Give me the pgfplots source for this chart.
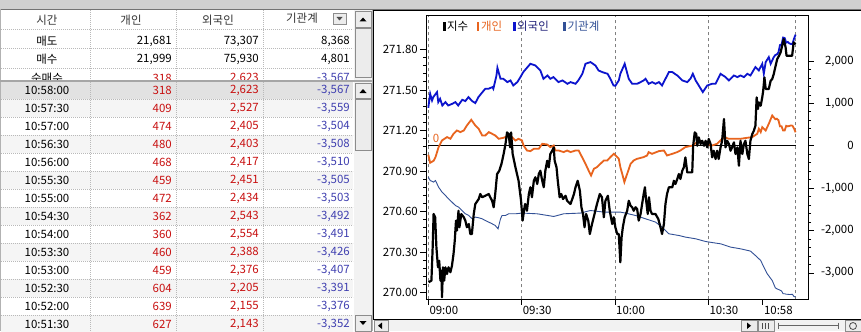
\documentclass[border=0pt]{standalone}
\usepackage{fontspec}
\setmainfont{Noto Sans CJK KR}
\usepackage{pgfplots}
\pgfplotsset{compat=1.18}
\definecolor{cGaein}{RGB}{232,100,30}
\definecolor{cForeign}{RGB}{12,20,205}
\definecolor{cInst}{RGB}{50,80,150}
\definecolor{cLegF}{RGB}{30,30,120}
\definecolor{cRed}{RGB}{200,16,16}
\definecolor{cBlue}{RGB}{64,64,176}
\definecolor{gridgray}{RGB}{128,128,128}
\definecolor{sepgray}{RGB}{185,185,185}
\definecolor{hilite}{RGB}{226,226,226}
\definecolor{altrow}{RGB}{245,245,245}
\definecolor{barface}{RGB}{236,236,236}
\definecolor{track}{RGB}{242,242,242}
\definecolor{topbar}{RGB}{208,208,208}

\newcommand\trow[5]{%
  \node[anchor=center] at (47,#1) {#2};
  \node[anchor=east,text=cRed] at (172,#1) {#3};
  \node[anchor=east,text=cRed] at (259,#1) {#4};
  \node[anchor=east,text=cBlue] at (350,#1) {#5};}
\newcommand\btn[4]{\filldraw[fill=barface,draw=black!45,line width=0.7bp] (#1,#2) rectangle (#3,#4);}

\pgfplotstableread{
m r
0 897
0.6 1227
1.2 1069
1.6 1149
2.8 1267
3.2 1031
3.8 1109
4.5 951
5.5 1031
6.4 951
7.7 991
8.7 1031
9.6 951
10.9 1086
11.9 1055
12.9 1149
14.1 1055
15.1 1008
16.1 1149
17.4 1267
18.3 1345
19.3 1345
20.6 1385
20.9 1345
21.9 1659
22.2 1841
23.2 1581
24.1 1581
25.4 1503
26.4 1542
27.3 1423
28.6 1503
29.6 1621
30.5 1739
32.8 1935
34.4 1895
36.0 1777
37.0 1581
38.3 1659
39.2 1581
40.2 1621
41.8 1503
43.1 1542
44.7 1463
45.7 1503
47.3 1463
48.2 1542
49.5 1699
50.5 1935
52.1 1975
53.7 1895
54.7 1777
55.9 1739
57.6 1699
58.5 1581
59.5 1423
60.1 1416
61.2 1542
61.7 1699
63.1 1935
64.4 1581
65.5 1463
67.1 1463
68.2 1503
69.2 1542
69.8 1581
70.8 1463
71.9 1503
73.0 1463
74.1 1503
75.1 1423
76.2 1581
77.3 1739
78.4 1739
80.0 1659
81.6 1542
83.2 1503
84.2 1581
85.0 1699
85.9 1542
86.9 1423
88.2 1267
89.6 1423
91.2 1463
92.3 1463
93.9 1699
95.5 1621
96.6 1542
98.2 1659
99.3 1621
100.3 1659
101.4 1621
102.5 1699
103.5 1659
105.1 1857
106.2 1777
107.3 1935
107.8 1699
108.4 1975
109.4 2093
110.0 1935
111.0 2093
111.5 2143
112.0 2155
112.5 2205
113.0 2376
113.5 2388
114.0 2554
114.5 2543
115.0 2434
115.5 2451
116.0 2417
116.5 2403
117.0 2405
117.5 2527
118.0 2623
}\foreign

\pgfplotstableread{
m r
0 -212
0.6 -401
1.7 -354
2.3 -271
3.3 -31
4.4 125
6.0 205
7.1 165
8.1 283
9.2 361
10.3 323
11.4 361
12.4 479
13.8 614
15.1 479
16.2 401
17.3 243
18.3 243
19.4 323
20.5 283
21.5 243
22.6 165
24.2 189
25.8 243
26.9 205
28.0 125
29.0 165
30.1 125
30.6 7
31.7 -111
32.8 -126
33.9 -71
35.5 -71
36.6 47
38.2 31
39.2 -31
40.3 7
40.8 -111
41.9 -111
43.5 -149
44.6 -111
45.7 -149
47.3 -111
48.3 -111
49.4 -267
50.5 -425
51.5 -583
52.3 -701
53.2 -543
54.2 -503
55.3 -425
56.4 -347
57.5 -347
58.5 -267
59.6 -189
60.7 -267
61.2 -307
61.7 -503
62.3 -661
63.0 -857
63.9 -661
65.0 -425
66.0 -347
67.1 -307
69.2 -267
70.3 -229
70.8 -149
71.9 -189
74.1 -126
75.7 -111
76.7 -229
78.4 -189
80.0 -149
81.0 -111
82.6 -31
85.0 7
86.9 125
89.1 47
91.2 7
92.8 47
95.0 205
96.6 165
98.2 165
100.3 165
102.5 189
104.1 205
105.7 283
106.2 401
106.8 323
107.3 441
108.4 361
109.4 519
110.5 715
111.5 627
112.0 639
112.5 604
113.0 459
113.5 460
114.0 360
114.5 362
115.0 472
115.5 459
116.0 468
116.5 480
117.0 474
117.5 409
118.0 318
}\gaein

\pgfplotstableread{
m r
0 -739
0.6 -819
1.7 -857
2.3 -819
3.3 -975
4.4 -1093
5.5 -1173
6.5 -1251
7.6 -1329
8.7 -1409
9.7 -1447
10.8 -1527
11.9 -1605
13.0 -1645
14.1 -1723
15.1 -1683
16.2 -1699
17.3 -1723
18.3 -1763
19.4 -1801
20.5 -1841
21.5 -1881
22.4 -1959
23.2 -1723
23.7 -1645
24.8 -1645
25.8 -1605
28.0 -1605
30.1 -1588
35.0 -1605
40.3 -1668
43.5 -1605
48.9 -1588
52.1 -1527
56.4 -1565
61.7 -1565
63.3 -1588
66.6 -1645
69.8 -1723
73.0 -1801
75.1 -1919
77.3 -2077
80.5 -2117
82.6 -2155
85.9 -2195
89.1 -2259
92.3 -2296
93.9 -2313
97.1 -2391
100.3 -2431
103.5 -2485
105.1 -2589
106.8 -2707
107.8 -2863
108.9 -3021
110.5 -3179
111.5 -3352
112.0 -3376
112.5 -3391
113.0 -3407
113.5 -3426
114.0 -3491
114.5 -3492
115.0 -3503
115.5 -3505
116.0 -3510
116.5 -3508
117.0 -3504
117.5 -3559
118.0 -3567
}\inst

\pgfplotstableread{
m v
0.1 270.077
1.0 270.089
1.4 270.336
1.7 270.582
2.2 270.558
2.6 270.336
3.1 270.188
3.5 270.237
3.9 270.089
4.2 270.163
4.4 269.966
4.7 270.188
5.1 270.089
5.5 270.188
6.0 270.138
6.5 270.188
7.1 270.151
7.6 270.200
8.1 270.286
8.5 270.385
8.9 270.533
9.2 270.459
9.7 270.606
10.0 270.484
10.6 270.582
11.4 270.558
11.9 270.533
12.4 270.484
13.0 270.508
13.5 270.434
14.0 270.434
14.6 270.582
15.1 270.656
16.2 270.693
16.7 270.730
17.3 270.706
18.3 270.717
19.4 270.730
19.9 270.706
20.5 270.680
21.0 270.632
21.5 270.730
22.1 270.878
22.8 270.902
23.5 270.952
24.2 271.026
24.8 271.100
25.3 271.186
25.8 271.174
26.3 271.075
26.6 271.186
27.1 271.026
28.0 270.927
29.0 270.828
29.8 270.680
30.3 270.533
30.9 270.632
31.1 270.656
31.7 270.606
32.3 270.730
32.8 270.780
33.3 270.706
33.9 270.828
34.4 270.854
35.0 270.804
35.5 270.878
36.0 270.902
36.6 270.828
37.1 270.780
37.6 270.902
38.2 270.976
38.7 270.927
39.2 271.026
39.8 271.050
40.3 271.075
40.6 270.976
41.2 270.927
41.6 270.828
42.2 270.706
42.7 270.730
43.3 270.693
44.1 270.717
44.6 270.680
45.7 270.656
46.8 270.730
47.3 270.780
48.0 270.828
48.7 270.754
49.2 270.632
49.7 270.582
50.2 270.484
50.7 270.582
51.4 270.533
51.9 270.434
52.6 270.508
53.4 270.582
54.2 270.656
55.1 270.730
55.8 270.706
56.4 270.558
56.9 270.680
57.7 270.717
58.3 270.606
59.1 270.508
59.6 270.558
60.1 270.484
60.7 270.434
61.2 270.434
61.7 270.225
62.1 270.410
62.5 270.484
63.1 270.558
63.9 270.606
64.4 270.680
65.0 270.643
65.5 270.632
66.0 270.606
66.6 270.632
67.1 270.619
67.6 270.533
68.2 270.582
68.7 270.656
69.2 270.730
69.6 270.780
70.0 270.680
70.5 270.582
70.9 270.706
71.4 270.606
71.9 270.582
73.0 270.582
73.9 270.545
74.6 270.484
75.1 270.434
75.7 270.508
76.2 270.656
76.7 270.730
77.3 270.780
78.4 270.780
78.9 270.828
79.4 270.804
80.0 270.841
80.5 270.878
81.0 270.841
81.6 270.902
82.1 270.927
82.6 271.001
83.2 270.890
83.7 270.890
84.8 270.890
85.1 271.087
85.6 271.186
86.1 271.174
86.4 271.087
86.9 271.149
87.5 271.100
88.0 271.124
88.6 271.087
89.1 271.124
89.6 271.075
90.1 271.137
90.7 271.100
91.2 271.001
91.7 271.050
92.3 270.989
92.8 271.050
93.3 270.989
93.9 271.075
94.4 271.124
95.0 271.285
95.5 271.075
96.0 271.124
96.6 271.100
97.1 271.050
97.6 271.075
98.2 271.112
98.7 271.026
99.3 271.075
99.8 270.939
100.3 271.124
100.9 271.026
101.4 271.100
101.9 271.124
102.5 271.026
103.0 270.989
103.5 271.124
104.1 271.174
104.6 271.198
105.1 271.235
105.5 271.445
105.9 271.359
106.2 271.408
106.8 271.383
107.3 271.445
107.6 271.494
108.0 271.593
108.4 271.507
109.4 271.507
110.0 271.568
110.5 271.581
111.0 271.618
111.6 271.679
112.1 271.728
112.7 271.753
113.2 271.778
113.7 271.827
114.2 271.876
114.8 271.815
115.1 271.753
116.4 271.753
116.9 271.753
117.4 271.852
118.0 271.839
}\jisu

\begin{document}
\fontsize{11.5}{13}\selectfont
\begin{tikzpicture}[x=1bp,y=1bp]
\path[use as bounding box] (0,0) rectangle (861,331);
\fill[white] (0,0) rectangle (861,331);

% ---------- pixel-space scope (y downward) ----------
\begin{scope}[shift={(0,331)},yscale=-1,every node/.style={inner sep=0pt}]
  % top band
  \fill[topbar] (0,0) rectangle (861,9);
  \draw[black!55,line width=0.8bp] (0,9.4) -- (861,9.4);
  \draw[black!30,line width=1bp] (0.5,9) -- (0.5,331);

  % ----- upper table -----
  \foreach \yy in {29,48,68}{\draw[sepgray,line width=0.6bp,dash pattern=on 1bp off 1bp] (1,\yy) -- (353,\yy);}
  \foreach \xx in {90,176,263}{\draw[sepgray,line width=0.6bp,dash pattern=on 1bp off 1bp] (\xx,10) -- (\xx,79);}
  \node[text=black!80] at (47,20) {시간};
  \node[text=black!80] at (131,20) {개인};
  \node[text=black!80] at (218,20) {외국인};
  \node[text=black!80] at (302,18.5) {기관계};
  \filldraw[fill=barface,draw=black!45,line width=0.6bp] (333,13) rectangle (346,24);
  \fill[black!70] (336.5,17) -- (342.5,17) -- (339.5,20.5) -- cycle;
  \node at (47,41) {매도};
  \node[anchor=east] at (172,41) {21,681};
  \node[anchor=east] at (259,41) {73,307};
  \node[anchor=east] at (350,41) {8,368};
  \node at (47,59) {매수};
  \node[anchor=east] at (172,59) {21,999};
  \node[anchor=east] at (259,59) {75,930};
  \node[anchor=east] at (350,59) {4,801};
  \begin{scope}
    \clip (0,68) rectangle (353,79.5);
    \node at (47,78) {순매수};
    \node[anchor=east,text=cRed] at (172,78) {318};
    \node[anchor=east,text=cRed] at (259,78) {2,623};
    \node[anchor=east,text=cBlue] at (350,78) {-3,567};
  \end{scope}
  % upper scrollbar
  \fill[track] (354,10) rectangle (372,80);
  \btn{355}{11}{371}{27}
  \fill[black] (359.5,21.5) -- (366.5,21.5) -- (363,17.5) -- cycle;
  \btn{355}{28}{371}{77}
  % separator
  \fill[black!35] (0,79.5) rectangle (372,82);

  % ----- lower table -----
  \foreach \i in {1,3,5,7,9,11,13}{\fill[altrow] (1,{81+18*\i}) rectangle (353,{99+18*\i});}
  \fill[hilite] (1,82) rectangle (353,99);
  \foreach \i in {1,...,13}{\draw[sepgray,line width=0.6bp,dash pattern=on 1bp off 1bp] (1,{81+18*\i}) -- (353,{81+18*\i});}
  \foreach \xx in {90,176,263}{\draw[sepgray,line width=0.6bp,dash pattern=on 1bp off 1bp] (\xx,82) -- (\xx,331);}
  \trow{90}{10:58:00}{318}{2,623}{-3,567}
  \trow{108}{10:57:30}{409}{2,527}{-3,559}
  \trow{126}{10:57:00}{474}{2,405}{-3,504}
  \trow{144}{10:56:30}{480}{2,403}{-3,508}
  \trow{162}{10:56:00}{468}{2,417}{-3,510}
  \trow{180}{10:55:30}{459}{2,451}{-3,505}
  \trow{198}{10:55:00}{472}{2,434}{-3,503}
  \trow{216}{10:54:30}{362}{2,543}{-3,492}
  \trow{234}{10:54:00}{360}{2,554}{-3,491}
  \trow{252}{10:53:30}{460}{2,388}{-3,426}
  \trow{270}{10:53:00}{459}{2,376}{-3,407}
  \trow{288}{10:52:30}{604}{2,205}{-3,391}
  \trow{306}{10:52:00}{639}{2,155}{-3,376}
  \trow{324}{10:51:30}{627}{2,143}{-3,352}
  % lower scrollbar
  \fill[track] (354,82) rectangle (372,331);
  \btn{355}{83}{371}{98}
  \fill[black] (359.5,93) -- (366.5,93) -- (363,89) -- cycle;
  \btn{355}{99}{371}{150}
  \btn{355}{315}{371}{331}
  \fill[black] (359.5,321) -- (366.5,321) -- (363,325) -- cycle;

  % ----- chart panel frame -----
  \fill[black!30] (372,10) rectangle (373,331);
  \draw[black,line width=1bp] (373.5,10) -- (373.5,319);
  \draw[black,line width=1bp] (373,10.3) -- (861,10.3);
  \fill[track] (374,320) rectangle (861,331);
  \draw[black,line width=1bp] (373,319.5) -- (861,319.5);
  \btn{374}{320.5}{388}{331}
  \fill[black] (382,322.5) -- (382,329) -- (378,325.75) -- cycle;
  \btn{741}{320.5}{757}{331}
  \fill[black] (747,322.5) -- (747,329) -- (751,325.75) -- cycle;
  \btn{758}{320.5}{774}{331}
  \foreach \xx in {762.5,765.5,768.5}{\draw[black!70,line width=0.8bp] (\xx,323) -- (\xx,329);}
  \draw[black!60,line width=1bp] (778,325.7) -- (838,325.7);
  \draw[black!60,line width=1bp] (778,322.5) -- (778,329);
  \draw[black!60,line width=1bp] (838,322.5) -- (838,329);
  \btn{845}{320.5}{861}{331}
  \draw[black!70,line width=0.8bp] (853,326) circle (3.5);

  % ----- legend -----
  \fill[black] (443,22) rectangle (445.8,31);
  \node[anchor=west] at (447,26.5) {지수};
  \fill[cGaein] (476.5,22) rectangle (479.3,31);
  \node[anchor=west,text=cGaein] at (481,26.5) {개인};
  \fill[cForeign] (513,22) rectangle (515.8,31);
  \node[anchor=west,text=cLegF] at (517,26.5) {외국인};
  \fill[cInst] (563,22) rectangle (565.8,31);
  \node[anchor=west,text=cInst] at (567.5,26.5) {기관계};
\end{scope}

% ---------- flows axis (right) ----------
\begin{axis}[
  at={(426bp,31.7bp)}, anchor=south west,
  width=382.3bp, height=283.3bp, scale only axis,
  xmin=-0.74, xmax=122.1, ymin=-3623, ymax=3063,
  axis line style={black,line width=1bp},
  xtick={0,30,60,90,107.5},
  xticklabels={09:00,09:30,10:00,10:30,10:58},
  xtick pos=left, xticklabel pos=left,
  ytick={-3000,-2000,-1000,0,1000,2000},
  yticklabels={{-3,000},{-2,000},{-1,000},0,{1,000},{2,000}},
  ytick pos=right, yticklabel pos=right,
  minor y tick num=4,
  tick align=outside,
  major tick length=5.5bp, minor tick length=2.7bp,
  tick style={black,line width=0.8bp},
  xticklabel style={anchor=north west,inner sep=0pt,xshift=1bp,yshift=-1.5bp},
  yticklabel style={anchor=east,inner sep=0pt,xshift=40bp},
]
\foreach \g in {0,30,60,90,118}{
  \edef\tmp{\noexpand\addplot[gridgray,line width=0.8bp,dash pattern=on 3bp off 3bp] coordinates {(\g,-3623)(\g,3063)};}
  \tmp
}
\addplot[black,line width=0.9bp] coordinates {(0,0)(118,0)};
\addplot[cInst,line width=0.9bp] table[x=m,y=r] {\inst};
\addplot[cGaein,line width=1.8bp] table[x=m,y=r] {\gaein};
\addplot[cForeign,line width=1.8bp] table[x=m,y=r] {\foreign};
\node[text=cGaein,anchor=south west,inner sep=0pt] at (axis cs:1.4,80) {0};
\end{axis}

% ---------- index axis (left) ----------
\begin{axis}[
  at={(426bp,31.7bp)}, anchor=south west,
  width=382.3bp, height=283.3bp, scale only axis,
  xmin=-0.74, xmax=122.1, ymin=269.951, ymax=272.047,
  axis y line*=left, axis x line=none,
  axis line style={black,line width=1bp},
  ytick={270,270.3,270.6,270.9,271.2,271.5,271.8},
  yticklabels={270.00,270.30,270.60,270.90,271.20,271.50,271.80},
  minor y tick num=4,
  tick align=outside,
  major tick length=6bp, minor tick length=3bp,
  tick style={black,line width=0.8bp},
  yticklabel style={anchor=east,inner sep=0pt,xshift=-2bp},
]
\addplot[black,line width=2.2bp,line join=round] table[x=m,y=v] {\jisu};
\end{axis}
\end{tikzpicture}
\end{document}
